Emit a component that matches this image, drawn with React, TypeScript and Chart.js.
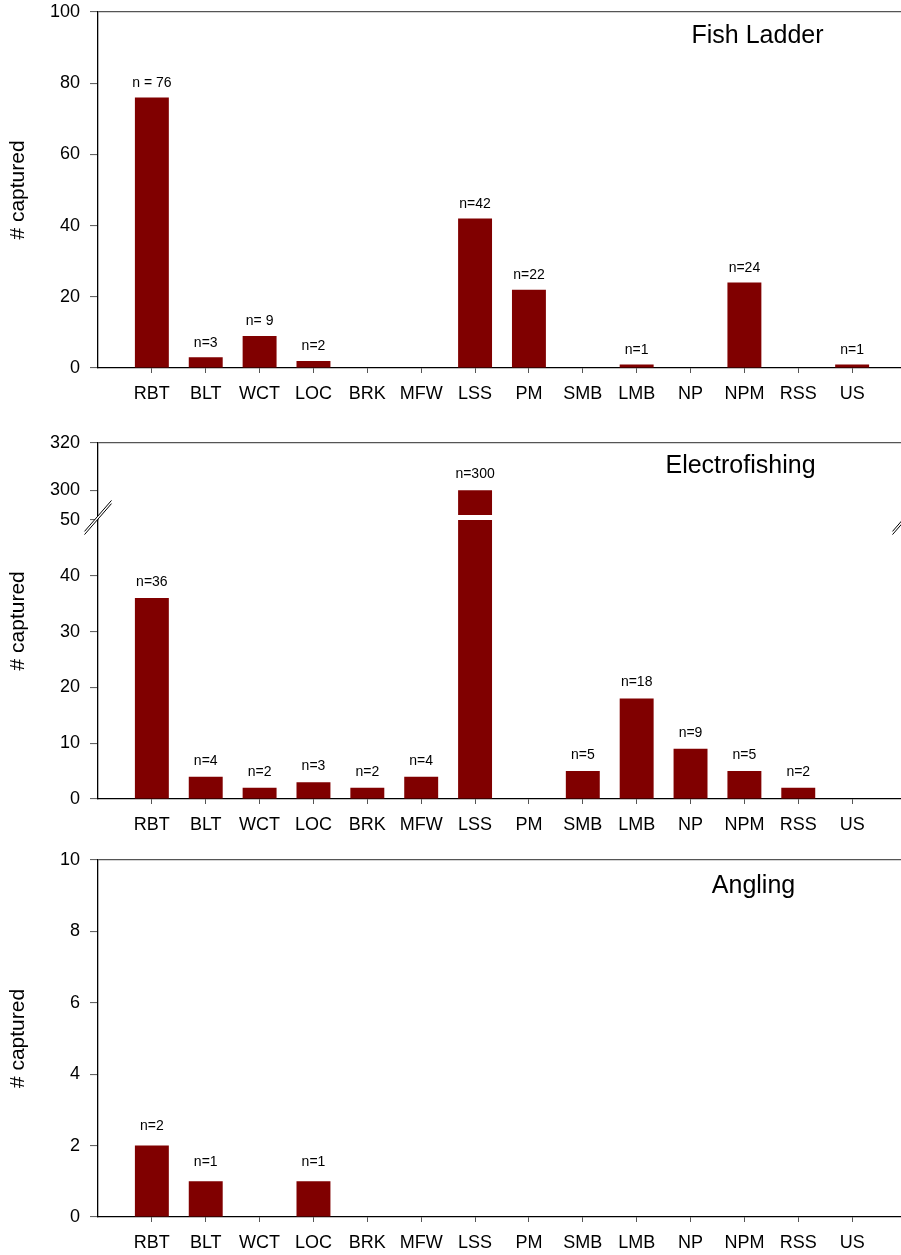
import { useEffect, useRef } from "react";
import { Chart, registerables } from "chart.js";

Chart.register(...registerables);

// ---------------- data ----------------
const categories = ["RBT", "BLT", "WCT", "LOC", "BRK", "MFW", "LSS", "PM", "SMB", "LMB", "NP", "NPM", "RSS", "US"];

const ladderValues = [76, 3, 9, 2, 0, 0, 42, 22, 0, 1, 0, 24, 0, 1];
const ladderLabels = ["n = 76", "n=3", "n= 9", "n=2", "", "", "n=42", "n=22", "", "n=1", "", "n=24", "", "n=1"];
const ladderTicks = [0, 20, 40, 60, 80, 100];

const electroValues = [36, 4, 2, 3, 2, 4, 300, 0, 5, 18, 9, 5, 2, 0];
const electroLabels = ["n=36", "n=4", "n=2", "n=3", "n=2", "n=4", "n=300", "", "n=5", "n=18", "n=9", "n=5", "n=2", ""];
const electroLowTicks = [0, 10, 20, 30, 40, 50];
const electroHighTicks = [300, 320];

const anglingValues = [2, 1, 0, 1, 0, 0, 0, 0, 0, 0, 0, 0, 0, 0];
const anglingLabels = ["n=2", "n=1", "", "n=1", "", "", "", "", "", "", "", "", "", ""];
const anglingTicks = [0, 2, 4, 6, 8, 10];

const panelTitles = ["Fish Ladder", "Electrofishing", "Angling"];
const yTitle = "# captured";

// ---------------- styles ----------------
const FONT = "'Liberation Sans', Arial, Helvetica, sans-serif";
const BAR = "#800000";
const CANVAS_W = 920;

Chart.defaults.font.family = FONT;
Chart.defaults.color = "#000";

function xScale(axisHeight: number) {
  return {
    type: "linear",
    position: "bottom",
    min: -1,
    max: 14,
    offset: false,
    afterBuildTicks: (s: any) => {
      s.ticks = categories.map((_, i) => ({ value: i }));
    },
    afterFit: (s: any) => {
      s.height = axisHeight;
    },
    ticks: {
      callback: (v: any) => categories[v] ?? "",
      font: { size: 18, family: FONT },
      color: "#000",
      padding: 10,
      autoSkip: false,
      maxRotation: 0,
      minRotation: 0,
    },
    grid: { offset: false, drawOnChartArea: false, drawTicks: true, tickLength: 5, tickColor: "#555", tickWidth: 1 },
    border: { display: true, color: "#000", width: 1.3 },
  };
}

function yScale(ticks: number[], min: number, max: number, frame: boolean, extra: any = {}) {
  return {
    type: "linear",
    position: "left",
    min,
    max,
    beginAtZero: false,
    afterBuildTicks: (s: any) => {
      s.ticks = ticks.map((v) => ({ value: v }));
    },
    afterFit: (s: any) => {
      s.width = 98;
      s.paddingTop = 0;
      s.paddingBottom = 0;
    },
    ticks: { font: { size: 18, family: FONT }, color: "#000", padding: 10, autoSkip: false },
    grid: {
      color: (c: any) => (frame && c.tick && c.tick.value === max ? "#555" : "rgba(0,0,0,0)"),
      lineWidth: 1.2,
      tickColor: "#555",
      tickLength: 8,
      tickWidth: 1,
    },
    border: { display: true, color: "#000", width: 1.3 },
    ...extra,
  };
}

function drawBreak(ctx: CanvasRenderingContext2D, cx: number, cy: number) {
  const dx = 13.5, dy = 15.5, off = 1.6;
  ctx.fillStyle = "#fff";
  ctx.beginPath();
  ctx.moveTo(cx - dx, cy + dy - off);
  ctx.lineTo(cx + dx, cy - dy - off);
  ctx.lineTo(cx + dx, cy - dy + off);
  ctx.lineTo(cx - dx, cy + dy + off);
  ctx.closePath();
  ctx.fill();
  ctx.strokeStyle = "#000";
  ctx.lineWidth = 1;
  for (const o of [-off, off]) {
    ctx.beginPath();
    ctx.moveTo(cx - dx, cy + dy + o);
    ctx.lineTo(cx + dx, cy - dy + o);
    ctx.stroke();
  }
}

function annotations(o: { values: number[]; labels: string[]; offset: number; title: string; titleX: number; titleDy: number }) {
  return {
    id: "annotations",
    afterDatasetsDraw(chart: any) {
      const { ctx, chartArea } = chart;
      const x = chart.scales.x;
      const low = chart.scales.y;
      const high = chart.scales.yTop;
      ctx.save();
      if (high) {
        const meta = chart.getDatasetMeta(0);
        o.values.forEach((v, i) => {
          if (v > low.max) {
            const bar = meta.data[i];
            ctx.fillStyle = "#fff";
            ctx.fillRect(bar.x - bar.width / 2 - 1, low.top - 5, bar.width + 2, 5);
          }
        });
        drawBreak(ctx, chartArea.left, low.top - 2.5);
        drawBreak(ctx, chartArea.right, low.top - 2.5);
      }
      ctx.fillStyle = "#000";
      ctx.textAlign = "center";
      ctx.textBaseline = "middle";
      ctx.font = `14px ${FONT}`;
      o.labels.forEach((t, i) => {
        if (!t) return;
        const v = o.values[i];
        const s = high && v > low.max ? high : low;
        ctx.fillText(t, x.getPixelForValue(i), s.getPixelForValue(v) - o.offset);
      });
      ctx.font = `25px ${FONT}`;
      ctx.fillText(o.title, o.titleX, chartArea.top + o.titleDy);
      ctx.translate(18, (chartArea.top + chartArea.bottom) / 2);
      ctx.rotate(-Math.PI / 2);
      ctx.font = `21px ${FONT}`;
      ctx.fillText(yTitle, 0, 0);
      ctx.restore();
    },
  };
}

function points(values: (number | null)[]) {
  return values.map((v, i) => ({ x: i, y: v }));
}

function barDataset(values: (number | null)[], extra: any = {}) {
  return {
    data: points(values),
    backgroundColor: BAR,
    borderWidth: 0,
    barPercentage: 0.63,
    categoryPercentage: 1,
    grouped: false,
    clip: 0,
    ...extra,
  };
}

function baseOptions(padTop: number) {
  return {
    responsive: false,
    animation: false,
    events: [],
    layout: { padding: { top: padTop, right: CANVAS_W - 906, left: 0, bottom: 0 } },
    plugins: { legend: { display: false }, tooltip: { enabled: false } },
  };
}

function ladderConfig() {
  return {
    type: "bar",
    data: { datasets: [barDataset(ladderValues)] },
    options: {
      ...baseOptions(12),
      scales: { x: xScale(52), y: yScale(ladderTicks, 0, 100, true) },
    },
    plugins: [annotations({ values: ladderValues, labels: ladderLabels, offset: 14.5, title: panelTitles[0], titleX: 757.5, titleDy: 24 })],
  };
}

function electroConfig() {
  const lowMax = electroLowTicks[electroLowTicks.length - 1];
  return {
    type: "bar",
    data: {
      datasets: [
        barDataset(electroValues, { yAxisID: "y" }),
        barDataset(electroValues.map((v) => (v > lowMax ? v : null)), { yAxisID: "yTop" }),
      ],
    },
    options: {
      ...baseOptions(22.7),
      scales: {
        x: xScale(41),
        yTop: yScale(electroHighTicks, 287.5, 320, true, { stack: "ef", stackWeight: 77.3, weight: 2 }),
        y: yScale(electroLowTicks, 0, lowMax, false, { stack: "ef", stackWeight: 279, weight: 1 }),
      },
    },
    plugins: [annotations({ values: electroValues, labels: electroLabels, offset: 16, title: panelTitles[1], titleX: 740.5, titleDy: 23.5 })],
  };
}

function anglingConfig() {
  return {
    type: "bar",
    data: { datasets: [barDataset(anglingValues)] },
    options: {
      ...baseOptions(20),
      scales: { x: xScale(38), y: yScale(anglingTicks, 0, 10, true) },
    },
    plugins: [annotations({ values: anglingValues, labels: anglingLabels, offset: 19, title: panelTitles[2], titleX: 753.5, titleDy: 26 })],
  };
}

function Panel({ top, height, build }: { top: number; height: number; build: () => any }) {
  const ref = useRef<HTMLCanvasElement | null>(null);
  useEffect(() => {
    const chart = new Chart(ref.current as HTMLCanvasElement, build());
    return () => chart.destroy();
  }, []);
  return (
    <canvas
      ref={ref}
      width={CANVAS_W}
      height={height}
      style={{ position: "absolute", left: 0, top, width: CANVAS_W, height, display: "block" }}
    />
  );
}

export default function App() {
  return (
    <div style={{ position: "absolute", left: 0, top: 0, width: 901, height: 1255, overflow: "hidden", background: "#fff" }}>
      <Panel top={0} height={420} build={ladderConfig} />
      <Panel top={420} height={420} build={electroConfig} />
      <Panel top={840} height={415} build={anglingConfig} />
    </div>
  );
}
